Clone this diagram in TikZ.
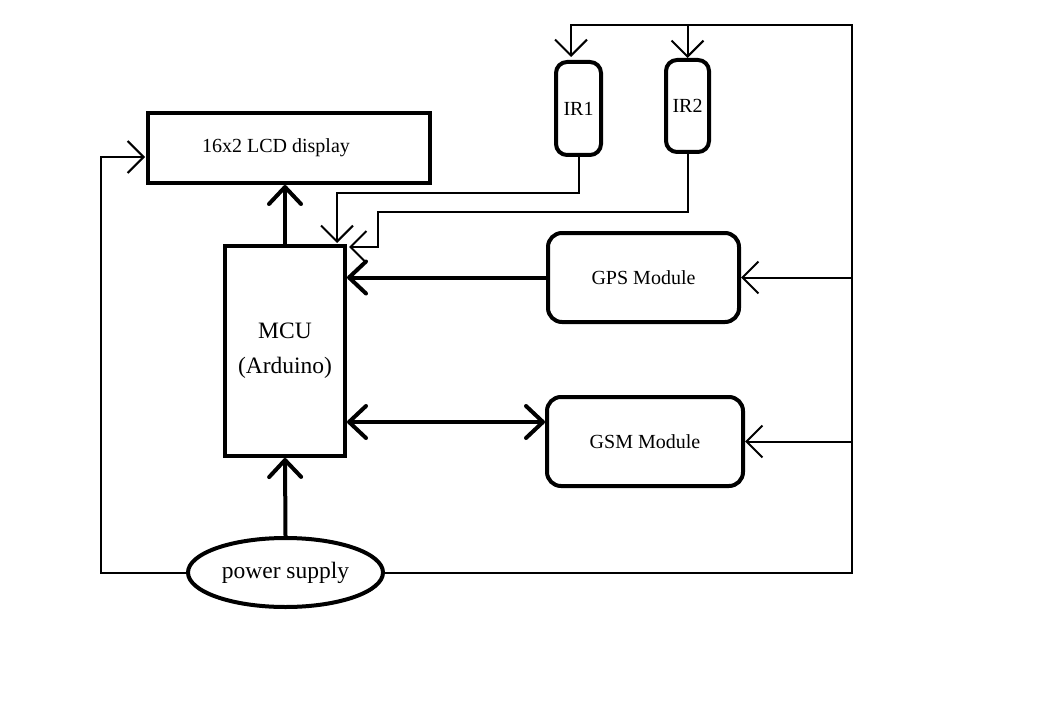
\documentclass[tikz,border=0pt]{standalone}
\usepackage{fontspec}
\setmainfont{Liberation Serif}
\usetikzlibrary{arrows.meta,shapes.geometric,calc}
\tikzset{
  blk/.style={draw, line width=4pt, inner sep=0pt},
  rblk/.style={blk, rounded corners=14pt},
  thickarrow/.style={line width=4pt, -{Straight Barb[length=17pt,width=32pt,round]}},
  thickdbl/.style={line width=4pt, {Straight Barb[length=17pt,width=32pt,round]}-{Straight Barb[length=17pt,width=32pt,round]}},
  thinline/.style={line width=2pt},
  thinarrow/.style={line width=2pt, -{Straight Barb[length=16pt,width=32pt]}},
  txt/.style={font=\fontsize{20}{24}\selectfont},
  bigtxt/.style={font=\fontsize{23.5}{35}\selectfont}
}
\begin{document}
\begin{tikzpicture}[x=1pt,y=-1pt]
\useasboundingbox[fill=white] (0,0) rectangle (1040,714);

% blocks
\node[blk, txt, minimum width=282pt, minimum height=70pt] (lcd) at (289,148) {\hspace*{-26pt}16x2 LCD display};
\node[blk, bigtxt, minimum width=120pt, minimum height=210pt, align=center] (mcu) at (285,351) {MCU\\(Arduino)};
\node[blk, rounded corners=11pt, txt, minimum width=45pt, minimum height=93pt] (ir1) at (578.5,108.5) {IR1};
\node[blk, rounded corners=11pt, txt, minimum width=43pt, minimum height=92pt] (ir2) at (687.5,106) {IR2};
\node[rblk, txt, minimum width=191pt, minimum height=89pt] (gps) at (643.5,277.5) {GPS Module};
\node[rblk, txt, minimum width=196pt, minimum height=89pt] (gsm) at (645,441.5) {GSM Module};
\node[draw, ellipse, line width=4pt, bigtxt, inner sep=0pt, minimum width=195pt, minimum height=69pt] (ps) at (285.5,572.5) {power supply};

% helper coordinates
\coordinate (bustop) at (852,25);
\coordinate (leftx) at (101,0);
\coordinate (lcdin) at (145,157);
\coordinate (gsmrow) at (0,422);
\coordinate (ir1in) at (571,57);
\coordinate (row1) at (0,193);
\coordinate (mcuin1) at (337,243);
\coordinate (bend2) at (378,212);
\coordinate (mcuin2) at (349,247);

% thick connectors
\draw[thickarrow] (mcu.north) -- (mcu.north |- lcd.south);
\draw[thickarrow] (gps.west) -- (gps.west -| mcu.east);
\draw[thickdbl] (mcu.east |- gsmrow) -- (gsm.west |- gsmrow);
\draw[thickarrow] (ps.north) -- (mcu.south);

% power distribution
\draw[thinarrow] (ps.west) -| (leftx |- lcdin) -- (lcdin);
\draw[thinarrow] (ps.east) -| (bustop) -| (ir1in);
\draw[thinarrow] (ir2.north |- bustop) -- (ir2.north);
\draw[thinarrow] (bustop |- gps.east) -- (gps.east);
\draw[thinarrow] (bustop |- gsm.east) -- (gsm.east);

% IR outputs
\draw[thinarrow] (ir1.south) |- (mcuin1 |- row1) -- (mcuin1);
\draw[thinarrow] (ir2.south) |- (bend2) |- (mcuin2);
\end{tikzpicture}
\end{document}
